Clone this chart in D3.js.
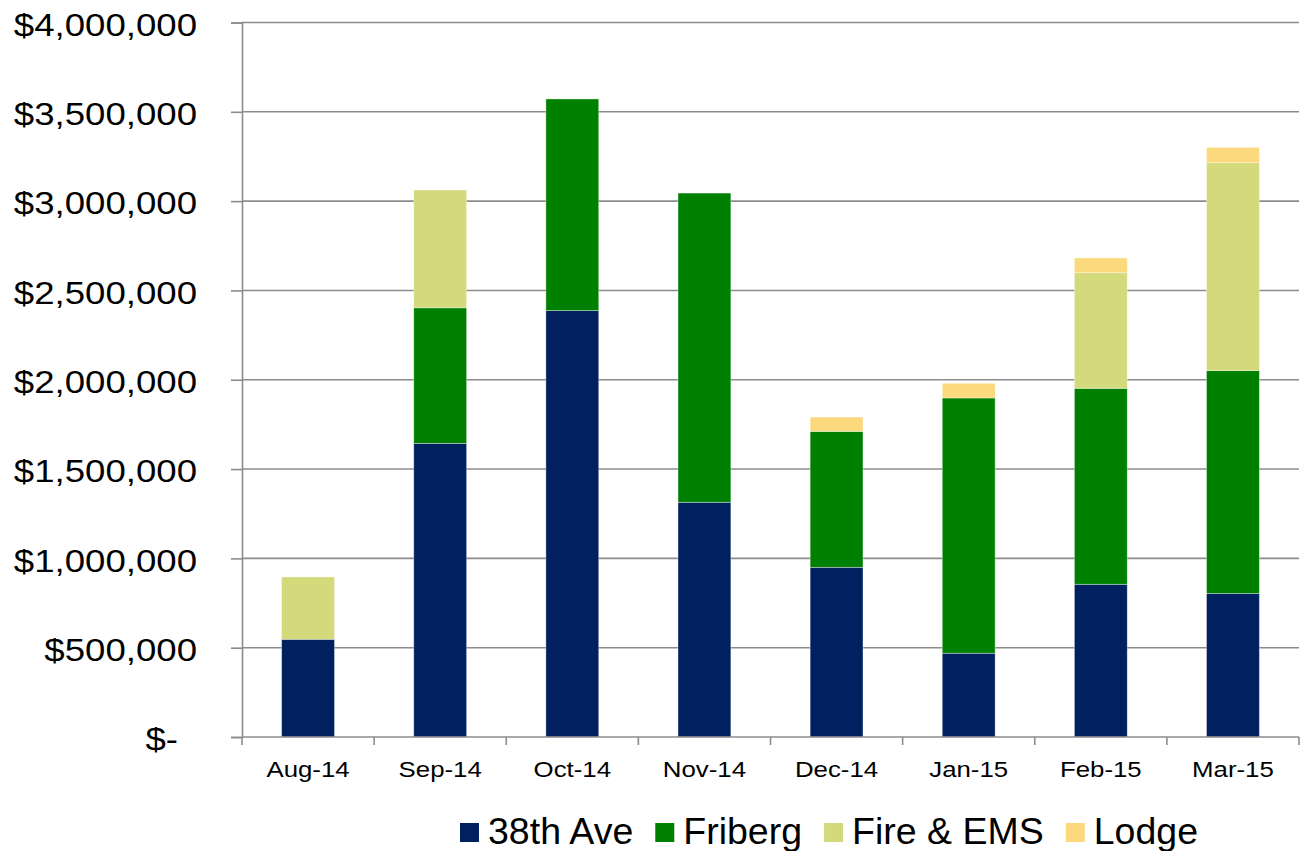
<!DOCTYPE html>
<html>
<head>
<meta charset="utf-8">
<script src="https://cdn.jsdelivr.net/npm/d3@7"></script>
<style>
  html, body { margin: 0; padding: 0; background: #fff; }
  svg { display: block; font-family: "Liberation Sans", Arial, sans-serif; }
</style>
</head>
<body>
<svg id="chart" width="1305" height="851"></svg>
<script>
// Monthly spending by project (stacked)
const months = ["Aug-14", "Sep-14", "Oct-14", "Nov-14", "Dec-14", "Jan-15", "Feb-15", "Mar-15"];
const seriesNames = ["38th Ave", "Friberg", "Fire & EMS", "Lodge"];
const ave38 = [547000, 1644000, 2387000, 1314000, 950000, 469000, 855000, 804000];
const friberg = [0, 759000, 1185000, 1731000, 761000, 1429000, 1097000, 1247000];
const fireEms = [349000, 659000, 0, 0, 0, 0, 647000, 1164000];
const lodge = [0, 0, 0, 0, 80000, 82000, 83000, 86000];
const yTicks = [0, 500000, 1000000, 1500000, 2000000, 2500000, 3000000, 3500000, 4000000];
const colors = ["#002060", "#008000", "#D4D97B", "#FBD97C"];

(function () {
  const rows = months.map((m, i) => ({
    month: m,
    "38th Ave": ave38[i],
    "Friberg": friberg[i],
    "Fire & EMS": fireEms[i],
    "Lodge": lodge[i]
  }));

  const svg = d3.select("#chart");
  const plotLeft = 242, plotRight = 1299, plotTop = 22.5, plotBottom = 737;
  const axisGrey = "#8c8c8c";

  // axis labels are drawn slightly wide
  function widen(sel, factor) {
    sel.each(function () {
      const w = this.getComputedTextLength();
      d3.select(this).attr("textLength", w * factor).attr("lengthAdjust", "spacingAndGlyphs");
    });
  }

  const x = d3.scaleBand().domain(months).range([plotLeft, plotRight]).paddingInner(0.6).paddingOuter(0.3);
  const y = d3.scaleLinear().domain([0, 4000000]).range([plotBottom, plotTop]);
  const color = d3.scaleOrdinal().domain(seriesNames).range(colors);

  // horizontal gridlines
  svg.append("g")
    .selectAll("line")
    .data(yTicks.slice(1))
    .join("line")
    .attr("x1", plotLeft).attr("x2", plotRight)
    .attr("y1", d => y(d)).attr("y2", d => y(d))
    .attr("stroke", axisGrey).attr("stroke-width", 1.6);

  // stacked bars
  const stacked = d3.stack().keys(seriesNames)(rows);
  svg.append("g")
    .selectAll("g")
    .data(stacked)
    .join("g")
    .attr("fill", d => color(d.key))
    .selectAll("rect")
    .data(d => d.filter(s => s[1] - s[0] > 0))
    .join("rect")
    .attr("x", d => x(d.data.month))
    .attr("width", x.bandwidth())
    .attr("y", d => y(d[1]))
    .attr("height", d => y(d[0]) - y(d[1]))
    .attr("stroke", "rgba(255,255,255,0.45)")
    .attr("stroke-width", 0.8);

  // y axis
  const yAxis = svg.append("g")
    .attr("transform", `translate(${plotLeft},0)`)
    .call(d3.axisLeft(y).tickValues(yTicks).tickSize(11).tickPadding(34)
      .tickFormat(d => d === 0 ? "$-" : "$" + d3.format(",")(d)));
  yAxis.select(".domain").attr("stroke", axisGrey).attr("stroke-width", 1.6);
  yAxis.selectAll(".tick line").attr("stroke", axisGrey).attr("stroke-width", 1.6);
  const yLabels = yAxis.selectAll(".tick text")
    .attr("font-size", 30.5)
    .attr("fill", "#000")
    .attr("font-family", "'Liberation Sans', Arial, sans-serif")
    .attr("dy", "0.42em")
    .attr("dx", d => d === 0 ? -19 : 0);
  widen(yLabels, 1.2);

  // x axis with ticks on category boundaries
  const xAxisG = svg.append("g");
  xAxisG.append("line")
    .attr("x1", plotLeft).attr("x2", plotRight)
    .attr("y1", plotBottom).attr("y2", plotBottom)
    .attr("stroke", axisGrey).attr("stroke-width", 1.6);
  const boundaries = months.map(m => x(m) - x.step() * x.paddingInner() / 2).concat([plotRight]);
  xAxisG.selectAll("line.tk")
    .data(boundaries)
    .join("line")
    .attr("class", "tk")
    .attr("x1", d => d).attr("x2", d => d)
    .attr("y1", plotBottom).attr("y2", plotBottom + 8)
    .attr("stroke", axisGrey).attr("stroke-width", 1.6);
  const xLabels = xAxisG.selectAll("text")
    .data(months)
    .join("text")
    .attr("x", d => x(d) + x.bandwidth() / 2)
    .attr("y", 777)
    .attr("text-anchor", "middle")
    .attr("font-size", 21.5)
    .attr("fill", "#000")
    .text(d => d);
  widen(xLabels, 1.2);

  // legend
  const legend = svg.append("g");
  let lx = 460;
  seriesNames.forEach(name => {
    legend.append("rect")
      .attr("x", lx).attr("y", 823)
      .attr("width", 19).attr("height", 19)
      .attr("fill", color(name));
    const t = legend.append("text")
      .attr("x", lx + 28).attr("y", 844)
      .attr("font-size", 37.5)
      .attr("fill", "#000")
      .text(name);
    lx = lx + 28 + t.node().getComputedTextLength() + 22;
  });
})();
</script>
</body>
</html>
